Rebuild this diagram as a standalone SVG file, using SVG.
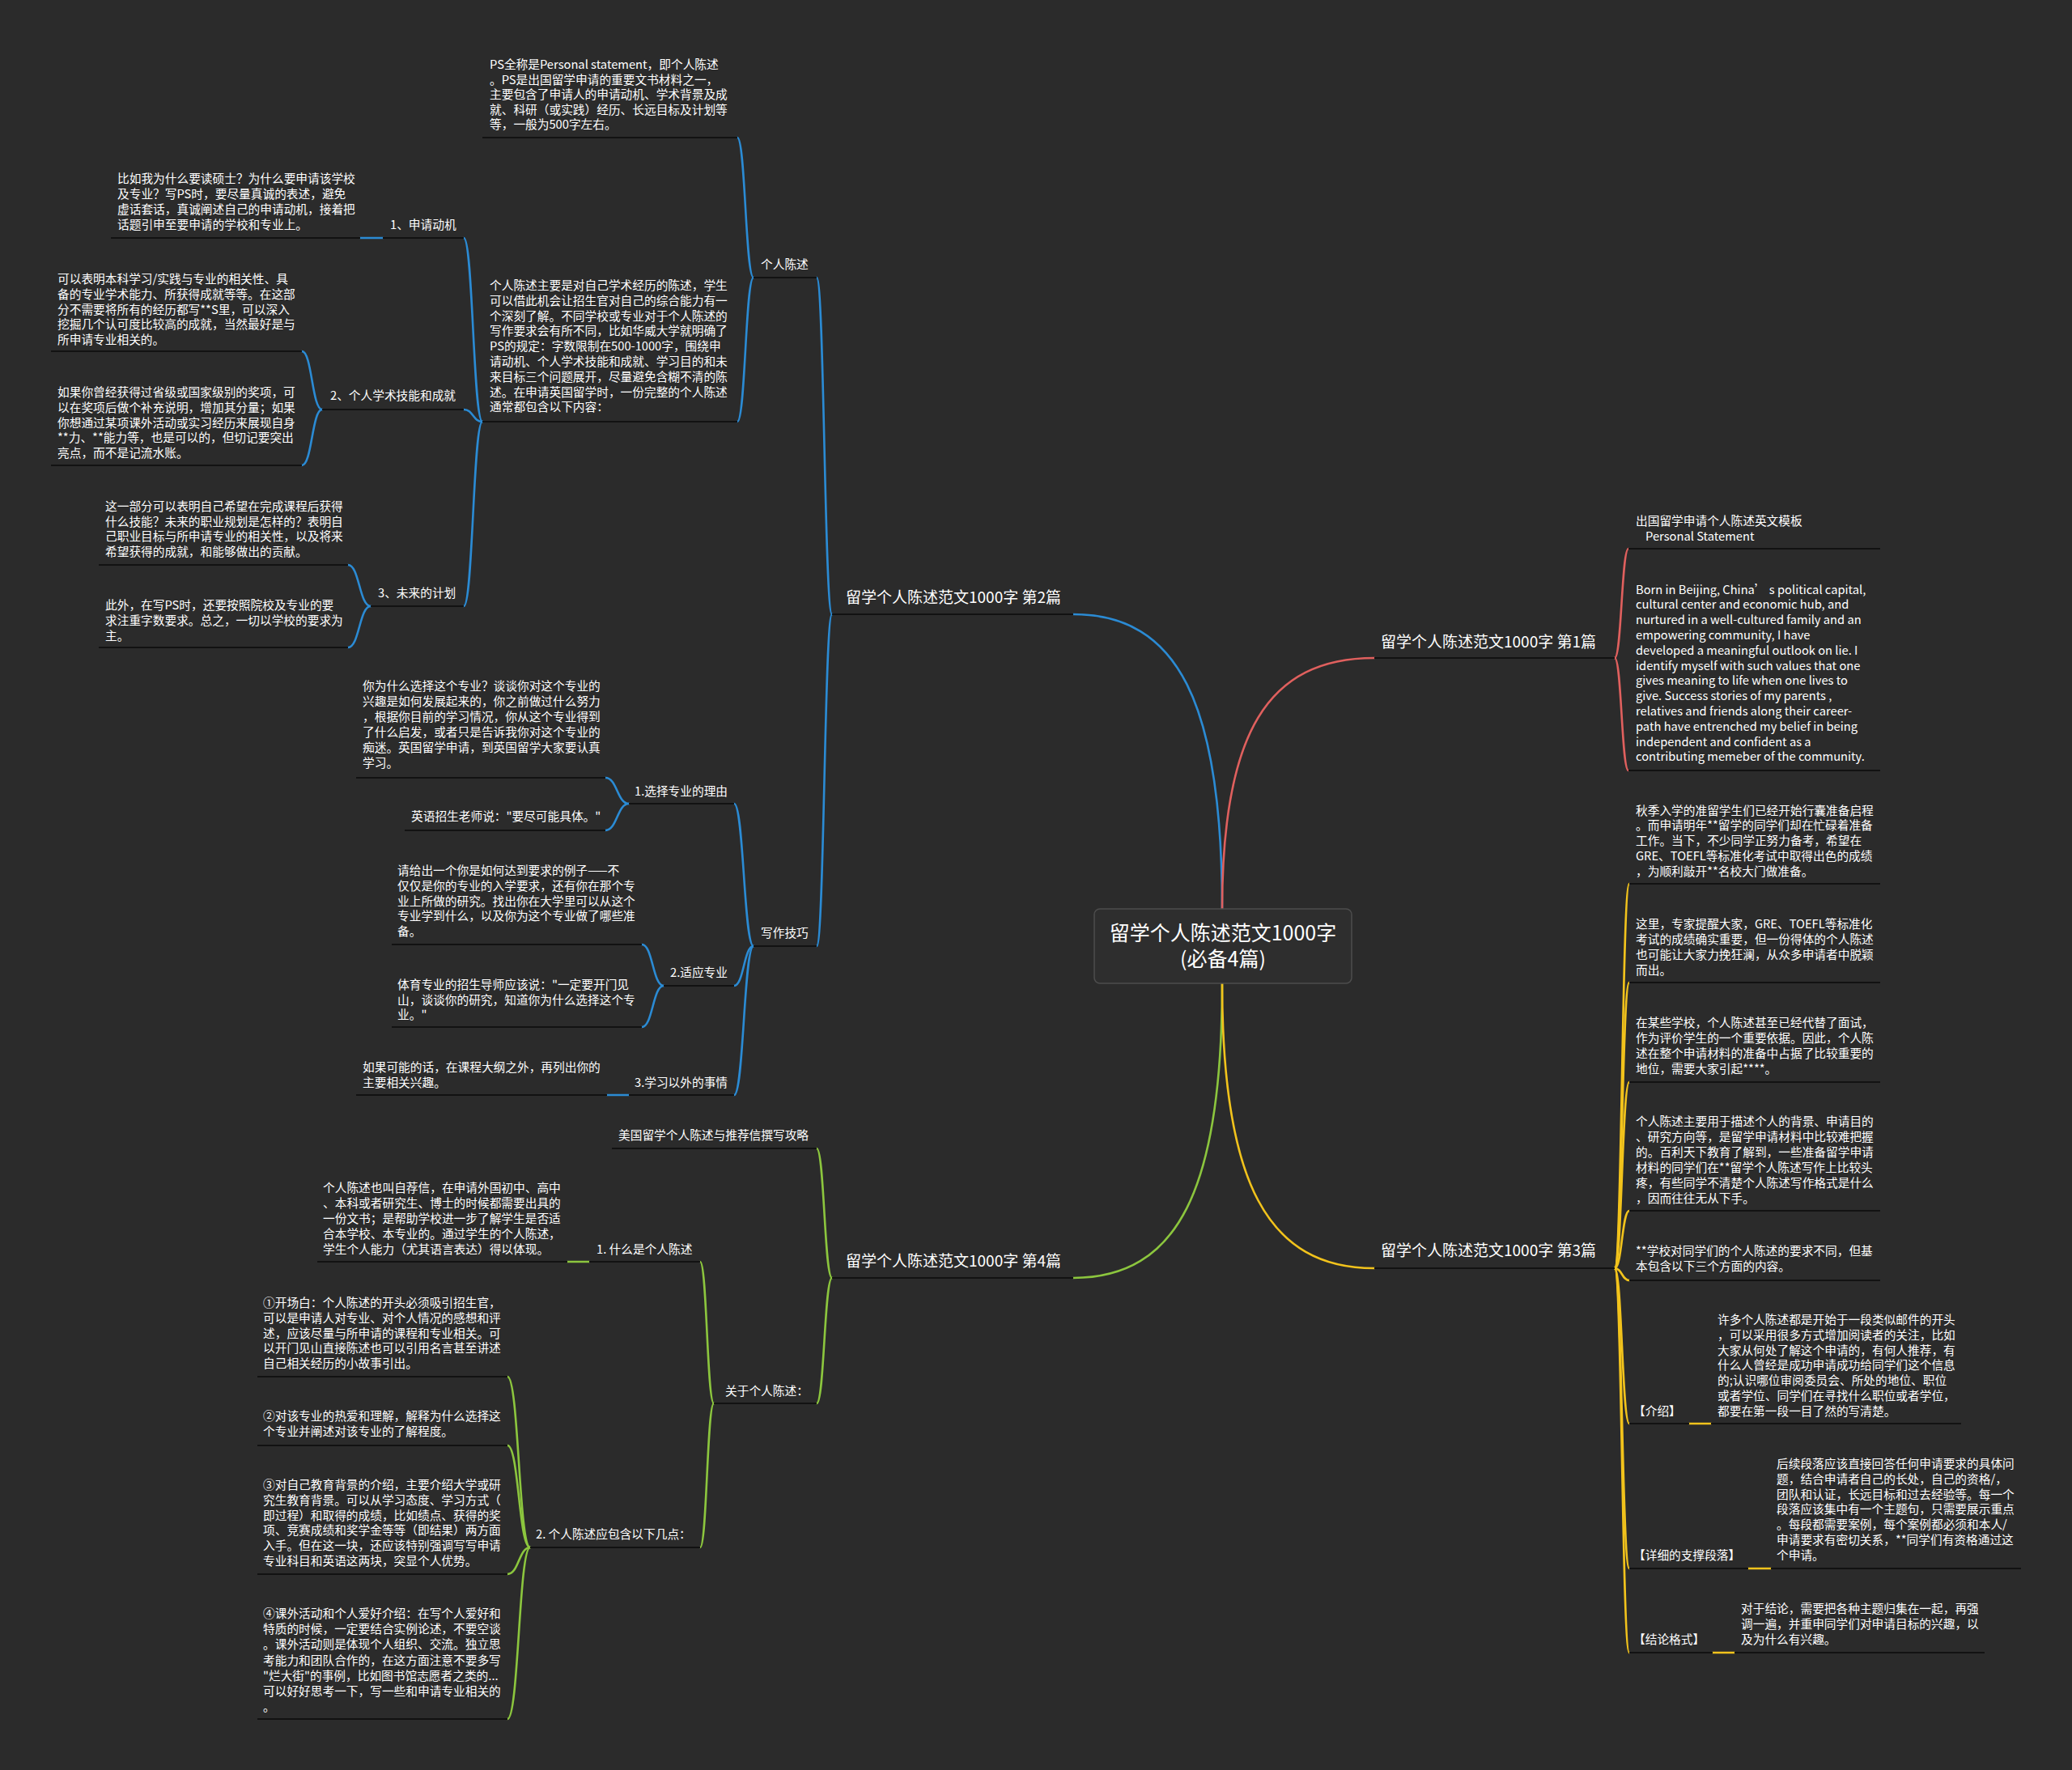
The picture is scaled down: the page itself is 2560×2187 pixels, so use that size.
<svg xmlns="http://www.w3.org/2000/svg" width="2560" height="2187" viewBox="0 0 2560 2187">
<style>
.t{font-family:"Noto Sans CJK SC","Noto Sans",sans-serif;font-size:14.7px;fill:#ffffff}
.b{font-size:19px}
.c{font-size:25px;text-anchor:middle}
.ul{stroke:#121212;stroke-width:2.2;fill:none}
.k{fill:none;stroke-width:2.6;stroke-linecap:round}
.blue{stroke:#2b8bd4}
.red{stroke:#e0605e}
.yel{stroke:#f2c31c}
.grn{stroke:#8cc63e}
</style>
<rect width="2560" height="2187" fill="#2b2b2b"/>

<g id="connectors">
<g class="k blue">
<path d="M1510,1123 C1510,868 1455,759 1326,759"/>
<path d="M1028,759 C1018.5,759 1018.5,343 1009,343"/>
<path d="M1028,759 C1018.5,759 1018.5,1169 1009,1169"/>
<path d="M931,343 C921,343 921,170 911,170"/>
<path d="M931,343 C921,343 921,521 911,521"/>
<path d="M596,521 C584.5,521 584.5,294 573,294"/>
<path d="M596,521 C584.5,521 584.5,506 573,506"/>
<path d="M596,521 C584.5,521 584.5,749 573,749"/>
<path d="M473,294 L445,294"/>
<path d="M398,506 C385.5,506 385.5,434 373,434"/>
<path d="M398,506 C385.5,506 385.5,575 373,575"/>
<path d="M458,749 C444,749 444,698 430,698"/>
<path d="M458,749 C444,749 444,800 430,800"/>
<path d="M931,1169 C919,1169 919,993 907,993"/>
<path d="M931,1169 C919,1169 919,1218 907,1218"/>
<path d="M931,1169 C919,1169 919,1353 907,1353"/>
<path d="M777,993 C762.5,993 762.5,961 748,961"/>
<path d="M777,993 C762.5,993 762.5,1026 748,1026"/>
<path d="M820,1218 C806.5,1218 806.5,1167 793,1167"/>
<path d="M820,1218 C806.5,1218 806.5,1269 793,1269"/>
<path d="M777,1353 L750,1353"/>
</g>
<g class="k grn">
<path d="M1510,1215 C1510,1470 1455,1579 1326,1579"/>
<path d="M1028,1579 C1018.5,1579 1018.5,1419 1009,1419"/>
<path d="M1028,1579 C1018.5,1579 1018.5,1734 1009,1734"/>
<path d="M882,1734 C873.5,1734 873.5,1559 865,1559"/>
<path d="M882,1734 C873.5,1734 873.5,1912 865,1912"/>
<path d="M728,1559 L701,1559"/>
<path d="M655,1912 C641,1912 641,1701 627,1701"/>
<path d="M655,1912 C641,1912 641,1786 627,1786"/>
<path d="M655,1912 C641,1912 641,1945 627,1945"/>
<path d="M655,1912 C641,1912 641,2124 627,2124"/>
</g>
<g class="k red">
<path d="M1510,1123 C1510,906 1566,813 1698,813"/>
<path d="M1995,813 C2003.5,813 2003.5,678 2012,678"/>
<path d="M1995,813 C2003.5,813 2003.5,952 2012,952"/>
</g>
<g class="k yel">
<path d="M1510,1215 C1510,1461 1566,1567 1698,1567"/>
<path d="M1995,1567 C2004,1567 2004,1092 2013,1092"/>
<path d="M1995,1567 C2004,1567 2004,1214 2013,1214"/>
<path d="M1995,1567 C2004,1567 2004,1337 2013,1337"/>
<path d="M1995,1567 C2004,1567 2004,1496 2013,1496"/>
<path d="M1995,1567 C2004,1567 2004,1582 2013,1582"/>
<path d="M1995,1567 C2004,1567 2004,1759 2013,1759"/>
<path d="M1995,1567 C2004,1567 2004,1938 2013,1938"/>
<path d="M1995,1567 C2004,1567 2004,2042 2013,2042"/>
<path d="M2087,1759 L2114,1759"/>
<path d="M2160,1938 L2188,1938"/>
<path d="M2116,2042 L2143,2042"/>
</g>
</g>

<g id="center">
<rect x="1352" y="1123" width="318" height="92" rx="7" fill="#2e2e2e" stroke="#4d4d4d" stroke-width="1.5"/>
<text class="t c" x="1511" y="1162">留学个人陈述范文1000字</text>
<text class="t c" x="1511" y="1194">(必备4篇)</text>
</g>

<!-- Branch 2 -->
<g id="b2"><text class="t b" x="1045" y="745">留学个人陈述范文1000字 第2篇</text><path class="ul" d="M1028,759 H1326"/></g>
<g id="b2-ps"><text class="t" x="940" y="332">个人陈述</text><path class="ul" d="M931,343 H1009"/></g>
<g id="b2-ps-def"><text class="t"><tspan x="605" y="85">PS全称是Personal statement，即个人陈述</tspan><tspan x="605" y="103.6">。PS是出国留学申请的重要文书材料之一，</tspan><tspan x="605" y="122.2">主要包含了申请人的申请动机、学术背景及成</tspan><tspan x="605" y="140.8">就、科研（或实践）经历、长远目标及计划等</tspan><tspan x="605" y="159.4">等，一般为500字左右。</tspan></text><path class="ul" d="M596,170 H911"/></g>
<g id="b2-ps-main"><text class="t"><tspan x="605" y="358">个人陈述主要是对自己学术经历的陈述，学生</tspan><tspan x="605" y="376.8">可以借此机会让招生官对自己的综合能力有一</tspan><tspan x="605" y="395.6">个深刻了解。不同学校或专业对于个人陈述的</tspan><tspan x="605" y="414.4">写作要求会有所不同，比如华威大学就明确了</tspan><tspan x="605" y="433.2">PS的规定：字数限制在500-1000字，围绕申</tspan><tspan x="605" y="452">请动机、个人学术技能和成就、学习目的和未</tspan><tspan x="605" y="470.8">来目标三个问题展开，尽量避免含糊不清的陈</tspan><tspan x="605" y="489.6">述。在申请英国留学时，一份完整的个人陈述</tspan><tspan x="605" y="508.4">通常都包含以下内容：</tspan></text><path class="ul" d="M596,521 H911"/></g>
<g id="b2-m1"><text class="t" x="482" y="283">1、申请动机</text><path class="ul" d="M473,294 H573"/></g>
<g id="b2-m1-t"><text class="t"><tspan x="145" y="226">比如我为什么要读硕士？为什么要申请该学校</tspan><tspan x="145" y="245">及专业？写PS时，要尽量真诚的表述，避免</tspan><tspan x="145" y="264">虚话套话，真诚阐述自己的申请动机，接着把</tspan><tspan x="145" y="283">话题引申至要申请的学校和专业上。</tspan></text><path class="ul" d="M137,294 H445"/></g>
<g id="b2-m2"><text class="t" x="408" y="494">2、个人学术技能和成就</text><path class="ul" d="M398,506 H573"/></g>
<g id="b2-m2-a"><text class="t"><tspan x="71" y="350">可以表明本科学习/实践与专业的相关性、具</tspan><tspan x="71" y="368.75">备的专业学术能力、所获得成就等等。在这部</tspan><tspan x="71" y="387.5">分不需要将所有的经历都写**S里，可以深入</tspan><tspan x="71" y="406.25">挖掘几个认可度比较高的成就，当然最好是与</tspan><tspan x="71" y="425">所申请专业相关的。</tspan></text><path class="ul" d="M63,434 H373"/></g>
<g id="b2-m2-b"><text class="t"><tspan x="71" y="490">如果你曾经获得过省级或国家级别的奖项，可</tspan><tspan x="71" y="508.75">以在奖项后做个补充说明，增加其分量；如果</tspan><tspan x="71" y="527.5">你想通过某项课外活动或实习经历来展现自身</tspan><tspan x="71" y="546.25">**力、**能力等，也是可以的，但切记要突出</tspan><tspan x="71" y="565">亮点，而不是记流水账。</tspan></text><path class="ul" d="M63,575 H373"/></g>
<g id="b2-m3"><text class="t" x="467" y="738">3、未来的计划</text><path class="ul" d="M458,749 H573"/></g>
<g id="b2-m3-c"><text class="t"><tspan x="130" y="631">这一部分可以表明自己希望在完成课程后获得</tspan><tspan x="130" y="649.7">什么技能？未来的职业规划是怎样的？表明自</tspan><tspan x="130" y="668.4">己职业目标与所申请专业的相关性，以及将来</tspan><tspan x="130" y="687">希望获得的成就，和能够做出的贡献。</tspan></text><path class="ul" d="M122,698 H430"/></g>
<g id="b2-m3-d"><text class="t"><tspan x="130" y="753">此外，在写PS时，还要按照院校及专业的要</tspan><tspan x="130" y="772">求注重字数要求。总之，一切以学校的要求为</tspan><tspan x="130" y="791">主。</tspan></text><path class="ul" d="M122,800 H430"/></g>
<g id="b2-w"><text class="t" x="940" y="1158">写作技巧</text><path class="ul" d="M931,1169 H1009"/></g>
<g id="b2-w1"><text class="t" x="784" y="983">1.选择专业的理由</text><path class="ul" d="M777,993 H907"/></g>
<g id="b2-w1-a"><text class="t"><tspan x="448" y="853">你为什么选择这个专业？谈谈你对这个专业的</tspan><tspan x="448" y="872">兴趣是如何发展起来的，你之前做过什么努力</tspan><tspan x="448" y="891">，根据你目前的学习情况，你从这个专业得到</tspan><tspan x="448" y="910">了什么启发，或者只是告诉我你对这个专业的</tspan><tspan x="448" y="929">痴迷。英国留学申请，到英国留学大家要认真</tspan><tspan x="448" y="948">学习。</tspan></text><path class="ul" d="M440,961 H748"/></g>
<g id="b2-w1-b"><text class="t" x="508" y="1014">英语招生老师说："要尽可能具体。"</text><path class="ul" d="M500,1026 H748"/></g>
<g id="b2-w2"><text class="t" x="828" y="1207">2.适应专业</text><path class="ul" d="M820,1218 H907"/></g>
<g id="b2-w2-a"><text class="t"><tspan x="491" y="1081">请给出一个你是如何达到要求的例子——不</tspan><tspan x="491" y="1100">仅仅是你的专业的入学要求，还有你在那个专</tspan><tspan x="491" y="1119">业上所做的研究。找出你在大学里可以从这个</tspan><tspan x="491" y="1137">专业学到什么，以及你为这个专业做了哪些准</tspan><tspan x="491" y="1156">备。</tspan></text><path class="ul" d="M484,1167 H793"/></g>
<g id="b2-w2-b"><text class="t"><tspan x="491" y="1222">体育专业的招生导师应该说："一定要开门见</tspan><tspan x="491" y="1241">山，谈谈你的研究，知道你为什么选择这个专</tspan><tspan x="491" y="1259">业。"</tspan></text><path class="ul" d="M484,1269 H793"/></g>
<g id="b2-w3"><text class="t" x="784" y="1343">3.学习以外的事情</text><path class="ul" d="M777,1353 H907"/></g>
<g id="b2-w3-a"><text class="t"><tspan x="448" y="1324">如果可能的话，在课程大纲之外，再列出你的</tspan><tspan x="448" y="1343">主要相关兴趣。</tspan></text><path class="ul" d="M440,1353 H750"/></g>

<!-- Branch 4 -->
<g id="b4"><text class="t b" x="1045" y="1565">留学个人陈述范文1000字 第4篇</text><path class="ul" d="M1028,1579 H1326"/></g>
<g id="b4-us"><text class="t" x="764" y="1408">美国留学个人陈述与推荐信撰写攻略</text><path class="ul" d="M756,1419 H1009"/></g>
<g id="b4-about"><text class="t" x="896" y="1724">关于个人陈述：</text><path class="ul" d="M882,1734 H1009"/></g>
<g id="b4-what"><text class="t" x="737" y="1549">1. 什么是个人陈述</text><path class="ul" d="M728,1559 H865"/></g>
<g id="b4-what-t"><text class="t"><tspan x="399" y="1473">个人陈述也叫自荐信，在申请外国初中、高中</tspan><tspan x="399" y="1492">、本科或者研究生、博士的时候都需要出具的</tspan><tspan x="399" y="1511">一份文书；是帮助学校进一步了解学生是否适</tspan><tspan x="399" y="1530">合本学校、本专业的。通过学生的个人陈述，</tspan><tspan x="399" y="1549">学生个人能力（尤其语言表达）得以体现。</tspan></text><path class="ul" d="M392,1559 H701"/></g>
<g id="b4-pts"><text class="t" x="662" y="1901">2. 个人陈述应包含以下几点：</text><path class="ul" d="M655,1912 H865"/></g>
<g id="b4-p1"><text class="t"><tspan x="325" y="1615">①开场白：个人陈述的开头必须吸引招生官，</tspan><tspan x="325" y="1633.8">可以是申请人对专业、对个人情况的感想和评</tspan><tspan x="325" y="1652.6">述，应该尽量与所申请的课程和专业相关。可</tspan><tspan x="325" y="1671.4">以开门见山直接陈述也可以引用名言甚至讲述</tspan><tspan x="325" y="1690.2">自己相关经历的小故事引出。</tspan></text><path class="ul" d="M318,1701 H627"/></g>
<g id="b4-p2"><text class="t"><tspan x="325" y="1755">②对该专业的热爱和理解，解释为什么选择这</tspan><tspan x="325" y="1774">个专业并阐述对该专业的了解程度。</tspan></text><path class="ul" d="M318,1786 H627"/></g>
<g id="b4-p3"><text class="t"><tspan x="325" y="1840">③对自己教育背景的介绍，主要介绍大学或研</tspan><tspan x="325" y="1858.8">究生教育背景。可以从学习态度、学习方式（</tspan><tspan x="325" y="1877.6">即过程）和取得的成绩，比如绩点、获得的奖</tspan><tspan x="325" y="1896.4">项、竞赛成绩和奖学金等等（即结果）两方面</tspan><tspan x="325" y="1915.2">入手。但在这一块，还应该特别强调写写申请</tspan><tspan x="325" y="1934">专业科目和英语这两块，突显个人优势。</tspan></text><path class="ul" d="M318,1945 H627"/></g>
<g id="b4-p4"><text class="t"><tspan x="325" y="1999">④课外活动和个人爱好介绍：在写个人爱好和</tspan><tspan x="325" y="2018.2">特质的时候，一定要结合实例论述，不要空谈</tspan><tspan x="325" y="2037.4">。课外活动则是体现个人组织、交流。独立思</tspan><tspan x="325" y="2056.6">考能力和团队合作的，在这方面注意不要多写</tspan><tspan x="325" y="2075.8">"烂大街"的事例，比如图书馆志愿者之类的...</tspan><tspan x="325" y="2095">可以好好思考一下，写一些和申请专业相关的</tspan><tspan x="325" y="2114.2">。</tspan></text><path class="ul" d="M318,2124 H627"/></g>

<!-- Branch 1 -->
<g id="b1"><text class="t b" x="1706" y="800">留学个人陈述范文1000字 第1篇</text><path class="ul" d="M1698,813 H1995"/></g>
<g id="b1-title"><text class="t"><tspan x="2021" y="649">出国留学申请个人陈述英文模板</tspan><tspan x="2033" y="668">Personal Statement</tspan></text><path class="ul" d="M2012,678 H2323"/></g>
<g id="b1-en"><text class="t"><tspan x="2021" y="733.5">Born in Beijing, China’ s political capital,</tspan><tspan x="2021" y="752.3">cultural center and economic hub, and</tspan><tspan x="2021" y="771.1">nurtured in a well-cultured family and an</tspan><tspan x="2021" y="789.9">empowering community, I have</tspan><tspan x="2021" y="808.7">developed a meaningful outlook on lie. I</tspan><tspan x="2021" y="827.5">identify myself with such values that one</tspan><tspan x="2021" y="846.3">gives meaning to life when one lives to</tspan><tspan x="2021" y="865.1">give. Success stories of my parents ,</tspan><tspan x="2021" y="883.9">relatives and friends along their career-</tspan><tspan x="2021" y="902.7">path have entrenched my belief in being</tspan><tspan x="2021" y="921.5">independent and confident as a</tspan><tspan x="2021" y="940.3">contributing memeber of the community.</tspan></text><path class="ul" d="M2012,952 H2323"/></g>

<!-- Branch 3 -->
<g id="b3"><text class="t b" x="1706" y="1552">留学个人陈述范文1000字 第3篇</text><path class="ul" d="M1698,1567 H1995"/></g>
<g id="b3-1"><text class="t"><tspan x="2021" y="1006.5">秋季入学的准留学生们已经开始行囊准备启程</tspan><tspan x="2021" y="1025.4">。而申请明年**留学的同学们却在忙碌着准备</tspan><tspan x="2021" y="1044.3">工作。当下，不少同学正努力备考，希望在</tspan><tspan x="2021" y="1063.2">GRE、TOEFL等标准化考试中取得出色的成绩</tspan><tspan x="2021" y="1082.1">，为顺利敲开**名校大门做准备。</tspan></text><path class="ul" d="M2013,1092 H2323"/></g>
<g id="b3-2"><text class="t"><tspan x="2021" y="1147">这里，专家提醒大家，GRE、TOEFL等标准化</tspan><tspan x="2021" y="1166">考试的成绩确实重要，但一份得体的个人陈述</tspan><tspan x="2021" y="1185">也可能让大家力挽狂澜，从众多申请者中脱颖</tspan><tspan x="2021" y="1204">而出。</tspan></text><path class="ul" d="M2013,1214 H2323"/></g>
<g id="b3-3"><text class="t"><tspan x="2021" y="1269">在某些学校，个人陈述甚至已经代替了面试，</tspan><tspan x="2021" y="1288">作为评价学生的一个重要依据。因此，个人陈</tspan><tspan x="2021" y="1307">述在整个申请材料的准备中占据了比较重要的</tspan><tspan x="2021" y="1326">地位，需要大家引起****。</tspan></text><path class="ul" d="M2013,1337 H2323"/></g>
<g id="b3-4"><text class="t"><tspan x="2021" y="1390.5">个人陈述主要用于描述个人的背景、申请目的</tspan><tspan x="2021" y="1409.5">、研究方向等，是留学申请材料中比较难把握</tspan><tspan x="2021" y="1428.5">的。百利天下教育了解到，一些准备留学申请</tspan><tspan x="2021" y="1447.5">材料的同学们在**留学个人陈述写作上比较头</tspan><tspan x="2021" y="1466.5">疼，有些同学不清楚个人陈述写作格式是什么</tspan><tspan x="2021" y="1485.5">，因而往往无从下手。</tspan></text><path class="ul" d="M2013,1496 H2323"/></g>
<g id="b3-5"><text class="t"><tspan x="2021" y="1551">**学校对同学们的个人陈述的要求不同，但基</tspan><tspan x="2021" y="1570">本包含以下三个方面的内容。</tspan></text><path class="ul" d="M2013,1582 H2323"/></g>
<g id="b3-intro"><text class="t" x="2018" y="1749">【介绍】</text><path class="ul" d="M2013,1759 H2087"/></g>
<g id="b3-intro-t"><text class="t"><tspan x="2122" y="1636">许多个人陈述都是开始于一段类似邮件的开头</tspan><tspan x="2122" y="1654.8">，可以采用很多方式增加阅读者的关注，比如</tspan><tspan x="2122" y="1673.6">大家从何处了解这个申请的，有何人推荐，有</tspan><tspan x="2122" y="1692.4">什么人曾经是成功申请成功给同学们这个信息</tspan><tspan x="2122" y="1711.2">的;认识哪位审阅委员会、所处的地位、职位</tspan><tspan x="2122" y="1730">或者学位、同学们在寻找什么职位或者学位，</tspan><tspan x="2122" y="1748.8">都要在第一段一目了然的写清楚。</tspan></text><path class="ul" d="M2114,1759 H2423"/></g>
<g id="b3-body"><text class="t" x="2018" y="1927">【详细的支撑段落】</text><path class="ul" d="M2013,1938 H2160"/></g>
<g id="b3-body-t"><text class="t"><tspan x="2195" y="1814">后续段落应该直接回答任何申请要求的具体问</tspan><tspan x="2195" y="1832.8">题，结合申请者自己的长处，自己的资格/，</tspan><tspan x="2195" y="1851.6">团队和认证，长远目标和过去经验等。每一个</tspan><tspan x="2195" y="1870.4">段落应该集中有一个主题句，只需要展示重点</tspan><tspan x="2195" y="1889.2">。每段都需要案例，每个案例都必须和本人/</tspan><tspan x="2195" y="1908">申请要求有密切关系，**同学们有资格通过这</tspan><tspan x="2195" y="1926.8">个申请。</tspan></text><path class="ul" d="M2188,1938 H2497"/></g>
<g id="b3-concl"><text class="t" x="2018" y="2031">【结论格式】</text><path class="ul" d="M2013,2042 H2116"/></g>
<g id="b3-concl-t"><text class="t"><tspan x="2151" y="1993">对于结论，需要把各种主题归集在一起，再强</tspan><tspan x="2151" y="2012">调一遍，并重申同学们对申请目标的兴趣，以</tspan><tspan x="2151" y="2031">及为什么有兴趣。</tspan></text><path class="ul" d="M2143,2042 H2452"/></g>
</svg>
